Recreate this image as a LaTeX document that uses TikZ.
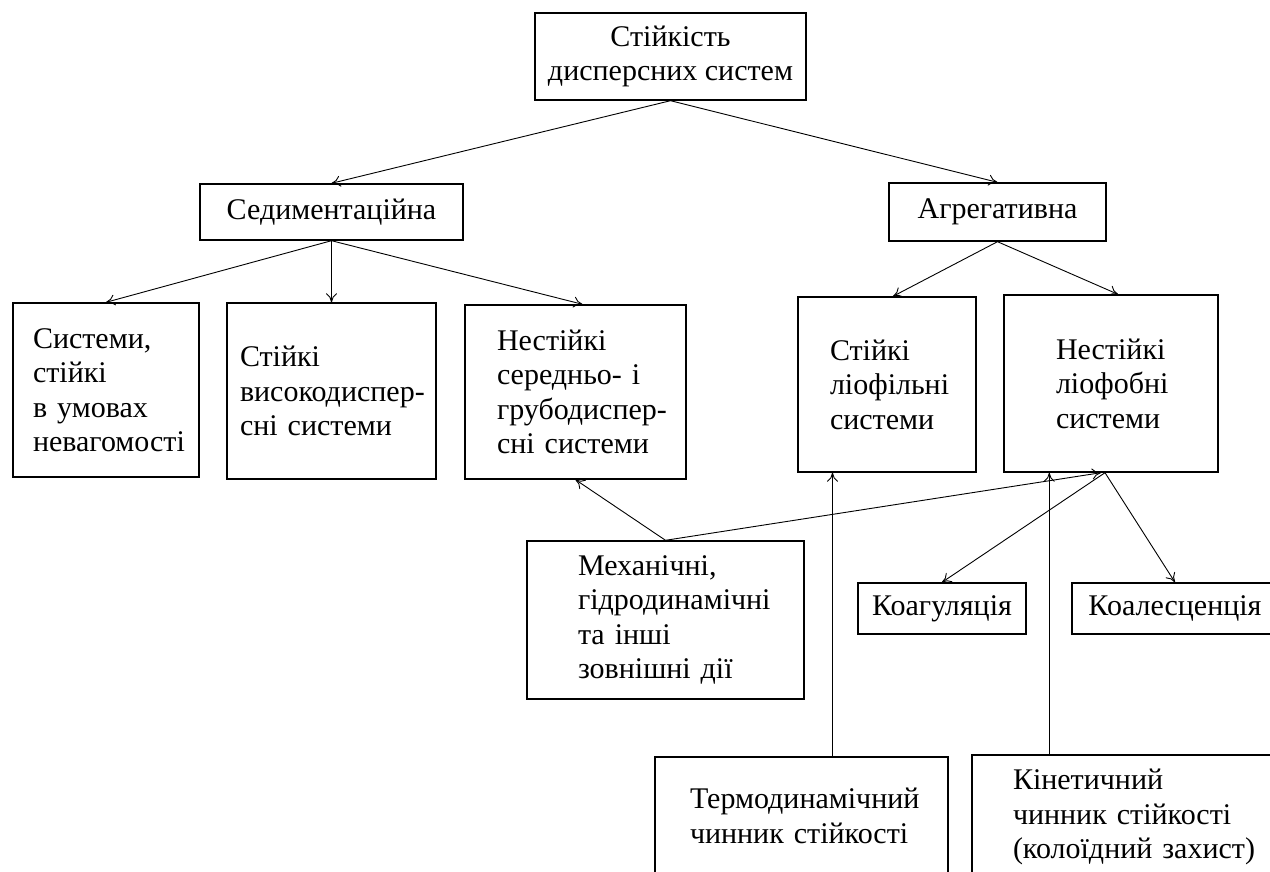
\documentclass[tikz,border=0pt]{standalone}
\usepackage{fontspec}
\setmainfont{Liberation Serif}
\usetikzlibrary{arrows.meta}
\hyphenpenalty=10000
\exhyphenpenalty=10000
\begin{document}
\begin{tikzpicture}[x=1pt,y=-1pt,
    box/.style={draw,line width=1.4pt,inner ysep=0pt,font=\fontsize{30}{34.5}\selectfont},
    lbox/.style={box,align=left},
    arr/.style={line width=0.9pt,-{To[length=9pt,width=11pt]}}]
    %% NOTE: page size and clipping
    \useasboundingbox (0,0) rectangle (1270,872);
    \clip (0,0) rectangle (1270,872);
    %% top level
    \node[box,align=center,minimum width=271,minimum height=87] (stab) at (670.5,56.5) {Стійкість\\дисперсних систем};
    \node[box,minimum width=263,minimum height=56] (sed) at (331.5,212) {Седиментаційна};
    \node[box,minimum width=217,minimum height=58] (agr) at (997.5,212) {Агрегативна};
    %% sedimentation branch
    \node[lbox,inner xsep=20,text width=146,minimum height=174] (sys) at (106,390) {Системи,\\стійкі\\в~умовах\\невагомості};
    \node[lbox,inner xsep=13,text width=183,minimum height=176] (vys) at (331.5,391) {Стійкі\\високодиспер-\\сні~системи};
    \node[lbox,inner xsep=32,text width=157,minimum height=174] (ser) at (575.5,392) {Нестійкі\\середньо-~і\\грубодиспер-\\сні~системи};
    %% aggregation branch
    \node[lbox,inner xsep=32,text width=114,minimum height=175] (lphil) at (887,384.5) {Стійкі\\ліофільні\\системи};
    \node[lbox,inner xsep=52,text width=110,minimum height=177] (lphob) at (1111,383.5) {Нестійкі\\ліофобні\\системи};
    %% lower boxes
    \node[lbox,inner xsep=51,text width=175,minimum height=158] (mech) at (665.5,620) {Механічні,\\гідродинамічні\\та~інші\\зовнішні~дії};
    \node[box,minimum width=168,minimum height=51] (koag) at (942,608.5) {Коагуляція};
    \node[box,minimum width=206,minimum height=51] (koal) at (1175,608.5) {Коалесценція};
    \node[lbox,inner xsep=35,text width=223,minimum height=118] (termo) at (801.5,816) {Термодинамічний\\чинник~стійкості};
    \node[lbox,inner xsep=41,text width=248,minimum height=124] (kin) at (1137,817) {Кінетичний\\чинник~стійкості\\(колоїдний~захист)};
    %% connectors
    \draw[arr] (stab.south) -- (sed.north);
    \draw[arr] (stab.south) -- (agr.north);
    \draw[arr] (sed.south) -- (sys.north);
    \draw[arr] (sed.south) -- (vys.north);
    \draw[arr] (sed.south) -- ([xshift=7pt]ser.north);
    \draw[arr] (agr.south) -- ([xshift=6pt]lphil.north);
    \draw[arr] (agr.south) -- ([xshift=7pt]lphob.north);
    \draw[arr] (mech.north) -- (ser.south);
    \draw[arr] (mech.north) -- ([xshift=-10pt]lphob.south);
    \draw[arr] ([xshift=-6pt]lphob.south) -- (koag.north);
    \draw[arr] ([xshift=-6pt]lphob.south) -- (koal.north);
    \draw[arr] ([xshift=31pt]termo.north) -- ([xshift=31pt]termo.north |- lphil.south);
    \draw[arr] ([xshift=78pt]kin.north west) -- ([xshift=78pt]kin.north west |- lphob.south);
\end{tikzpicture}
\end{document}
